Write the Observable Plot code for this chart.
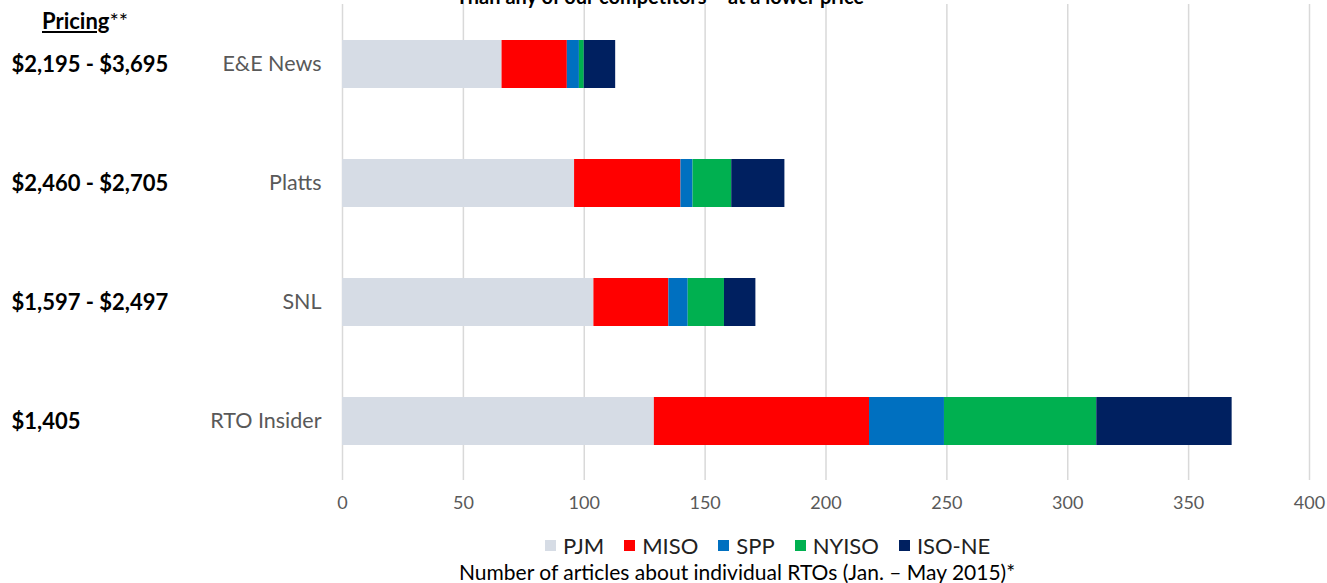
<!DOCTYPE html>
<html><head><meta charset="utf-8">
<script src="https://cdn.jsdelivr.net/npm/d3@7"></script>
<script src="https://cdn.jsdelivr.net/npm/@observablehq/plot@0.6"></script>
<style>
body{margin:0;background:#fff;font-family:Lato,sans-serif;}
#wrap{position:relative;width:1327px;height:583px;overflow:hidden;background:#fff;}
#chart svg{position:absolute;left:0;top:0;}
.ov{position:absolute;white-space:nowrap;font-family:Lato,sans-serif;}
#title{left:456px;top:-14px;font-size:20px;line-height:20px;font-weight:bold;color:#000;}
#pricing{left:42px;top:8px;font-size:22px;line-height:26px;font-weight:bold;color:#000;}
#legend{left:545px;top:532px;}
#xtitle{left:459px;top:559px;font-size:21px;line-height:26px;color:#000;}
.lg-swatches{font-family:Lato,sans-serif;font-size:22px;color:#222;margin:0;min-height:26px;}
.lg-swatches .lg-swatch > svg{margin-right:7px;}
.lg-swatches .lg-swatch:not(:last-child){margin-right:20px;}
</style></head><body>
<div id="wrap">
  <div id="chart"></div>
  <div id="title" class="ov">Than any of our competitors – at a lower price</div>
  <div id="pricing" class="ov"><span style="text-decoration:underline">Pricing</span><span style="font-weight:normal">**</span></div>
  <div id="legend" class="ov"></div>
  <div id="xtitle" class="ov">Number of articles about individual RTOs (Jan. – May 2015)*</div>
</div>
<script>
const companies = ["E&E News", "Platts", "SNL", "RTO Insider"];
const pricing = ["$2,195 - $3,695", "$2,460 - $2,705", "$1,597 - $2,497", "$1,405"];
const rtos = ["PJM", "MISO", "SPP", "NYISO", "ISO-NE"];
const rtoColors = ["#d6dce5", "#ff0000", "#0070c0", "#00b050", "#002060"];
const PJM = [66, 96, 104, 129];
const MISO = [27, 44, 31, 89];
const SPP = [5, 5, 8, 31];
const NYISO = [2, 16, 15, 63];
const ISONE = [13, 22, 13, 56];
const xTicks = [0, 50, 100, 150, 200, 250, 300, 350, 400];

const series = [PJM, MISO, SPP, NYISO, ISONE];
const rows = [];
rtos.forEach((r, si) => companies.forEach((c, ci) => rows.push({rto: r, company: c, value: series[si][ci]})));
const priceRows = companies.map((c, i) => ({company: c, price: pricing[i]}));

const chart = Plot.plot({
  width: 1327,
  height: 525,
  marginLeft: 342,
  marginRight: 18,
  marginTop: 4,
  marginBottom: 45,
  style: {fontFamily: "Lato, sans-serif", background: "transparent"},
  x: {domain: [0, 400]},
  y: {domain: companies, paddingInner: 0.6, paddingOuter: 0.3},
  color: {domain: rtos, range: rtoColors},
  marks: [
    Plot.gridX(xTicks, {stroke: "#d9d9d9", strokeOpacity: 1, strokeWidth: 1.5}),
    Plot.barX(rows, {x: "value", y: "company", fill: "rto", order: rtos}),
    Plot.axisX({ticks: xTicks, tickSize: 0, tickPadding: 16, fontSize: 18, color: "#595959", label: null}),
    Plot.axisY({tickSize: 0, tickPadding: 21, fontSize: 21.5, color: "#595959", label: null}),
    Plot.text(priceRows, {y: "company", text: "price", frameAnchor: "left", textAnchor: "start", dx: -331, fontSize: 22, fontWeight: "bold", fill: "#000"})
  ]
});
document.getElementById("chart").appendChild(chart);

const legend = Plot.legend({
  color: {domain: rtos, range: rtoColors},
  legend: "swatches",
  swatchSize: 11,
  className: "lg"
});
document.getElementById("legend").appendChild(legend);
</script>
</body></html>
